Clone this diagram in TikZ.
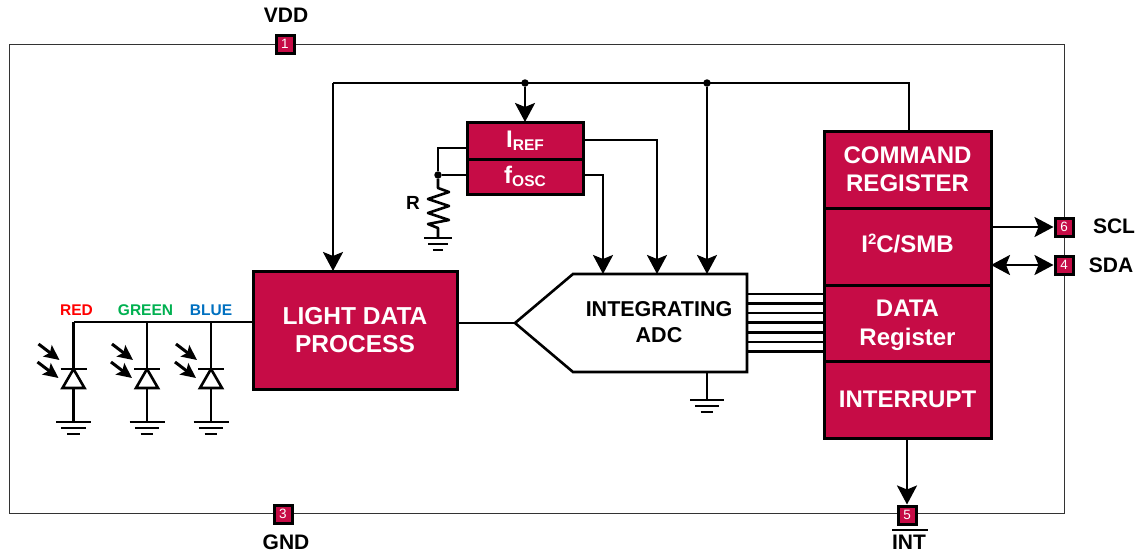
\documentclass[tikz,border=0pt]{standalone}
\usepackage{fontspec}
\setmainfont{Liberation Sans}
\usetikzlibrary{arrows.meta,calc}
\definecolor{crim}{HTML}{C60C46}
\definecolor{lblgreen}{HTML}{00B050}
\definecolor{lblblue}{HTML}{0070C0}
\newcommand{\fs}[1]{\fontsize{#1}{#1}\selectfont}
\newcommand{\subtxt}[1]{\raisebox{-3.5pt}{\fs{15.5}#1}}
\tikzset{
  x=1pt,y=-1pt,
  wire/.style={line width=2.6pt,black},
  arr/.style={wire,-{Stealth[length=19pt,width=20pt,inset=4pt]}},
  darr/.style={wire,{Stealth[length=19pt,width=20pt,inset=4pt]}-{Stealth[length=19pt,width=20pt,inset=4pt]}},
  dot/.style={circle,fill=black,inner sep=0pt,minimum size=7.5pt},
  redbox/.style={draw=black,line width=3pt,outer sep=0pt,fill=crim,text=white,font=\bfseries\fs{24},inner sep=0pt,align=center,anchor=north west},
  pinbox/.style={draw=black,line width=3pt,fill=crim,text=white,font=\fs{13.5},inner sep=0pt,minimum size=18pt},
  pinlbl/.style={font=\bfseries\fs{21},inner sep=0pt},
  plain/.style={font=\bfseries\fs{21.5},inner sep=0pt,align=center},
  colr/.style={font=\bfseries\fs{15.5},inner sep=0pt},
  arrowlet/.style={line width=3pt,-{Stealth[length=15pt,width=14pt,inset=3pt]}},
  gnd/.pic={
    \draw[wire] (-#1,0) -- (#1,0);
    \draw[wire] (-#1*0.7,6) -- (#1*0.7,6);
    \draw[wire] (-#1*0.37,12) -- (#1*0.37,12);
  },
  pics/diode/.style={code={
    \draw[wire,fill=white,line join=miter] (0,0) -- (-11,19) -- (11,19) -- cycle;
    \draw[wire] (-13,0) -- (13,0);
    \draw[arrowlet] (-35,-25) -- (-14,-9);
    \draw[arrowlet] (-36,-7) -- (-15,9);
  }},
}
\begin{document}
\begin{tikzpicture}
\useasboundingbox (0,0) rectangle (1140,554);
% frame
\node[draw=black!80,line width=0.9pt,minimum width=1055pt,minimum height=469pt,inner sep=0pt,outer sep=0pt,anchor=north west] (frame) at (9,44) {};

% blocks
\node[redbox,font=\bfseries\fs{24.5},minimum width=204pt,minimum height=118pt] (light) at (253,271) {LIGHT DATA\\[3.5pt]PROCESS};
\node[redbox,minimum width=116pt,minimum height=37pt] (iref) at (467,122) {I\subtxt{REF}};
\node[redbox,minimum width=116pt,minimum height=35pt] (fosc) at (467,159) {f\subtxt{OSC}};
\node[redbox,minimum width=167pt,minimum height=77pt] (cmd) at (824,131) {COMMAND\\[4pt]REGISTER};
\node[redbox,minimum width=167pt,minimum height=77pt] (i2c) at (824,208) {I\raisebox{8pt}{\fs{15}2}C/SMB\rule[-7pt]{0pt}{7pt}};
\node[redbox,minimum width=167pt,minimum height=76pt] (data) at (824,285) {\rule{0pt}{22pt}DATA\\[5pt]Register};
\node[redbox,minimum width=167pt,minimum height=77pt] (intr) at (824,361) {INTERRUPT};

% ADC
\coordinate (adctip) at (515,323);
\coordinate (adcul) at (573,274);
\coordinate (adcur) at (747,274);
\coordinate (adclr) at (747,372);
\coordinate (adcll) at (573,372);
\draw[line width=2.6pt,line join=miter] (adctip) -- (adcul) -- (adcur) -- (adclr) -- (adcll) -- cycle;
\node[plain] (adctxt) at (659,322) {INTEGRATING\\[5pt]ADC};

% pins
\node[pinbox] (pin1) at (285,44) {1};
\node[pinbox] (pin3) at (283,514) {3};
\node[pinbox] (pin6) at (1064,227) {6};
\node[pinbox] (pin4) at (1064,265) {4};
\node[pinbox] (pin5) at (907,515) {5};
\node[pinlbl] (vdd) at (286,15) {VDD};
\node[pinlbl] (gndl) at (286,542) {GND};
\node[pinlbl] (scl) at (1114,226) {SCL};
\node[pinlbl] (sda) at (1111,265) {SDA};
\node[pinlbl] (int) at (909,542) {INT};
\coordinate (intbarl) at (892,530);
\coordinate (intbarr) at (928,530);
\draw[line width=2.4pt] (intbarl) -- (intbarr);

% supply bus
\coordinate (busl) at (333,83);
\coordinate (busr) at (909,83);
\node[dot] (dota) at (525,83) {};
\node[dot] (dotb) at (707,83) {};
\draw[wire] (cmd.north -| busr) -- (busr) -- (busl);
\draw[arr] (busl) -- (busl |- light.north);
\draw[arr] (dota) -- (dota |- iref.north);
\draw[arr] (dotb) -- (dotb |- adcul);

% iref / fosc outputs
\coordinate (irefout) at (657,140);
\coordinate (foscout) at (603,175);
\draw[arr] (iref.east |- irefout) -- (irefout) -- (irefout |- adcul);
\draw[arr] (fosc.east |- foscout) -- (foscout) -- (foscout |- adcul);

% resistor
\node[dot] (rdot) at (438,175) {};
\coordinate (rl) at (438,148);
\draw[wire] (iref.west |- rl) -- (rl) -- (rdot);
\draw[wire] (fosc.west |- rdot) -- (rdot);
\coordinate (rgnd) at (438,238);
\draw[wire,line join=round] (rdot) -- (438,188) -- (449,192) -- (428,199) -- (449,206) -- (428,213) -- (449,220) -- (428,224) -- (438,228) -- (rgnd);
\pic at (rgnd) {gnd=14};
\node[pinlbl,font=\bfseries\fs{19}] (rlbl) at (413,203) {R};

% light to adc
\draw[wire] (light.east |- adctip) -- (adctip);

% adc ground
\coordinate (agnd) at (707,400);
\draw[wire] (agnd |- adclr) -- (agnd);
\pic at (agnd) {gnd=17};

% data lines
\foreach \n/\y in {a/294,b/303.7,c/313,d/322.7,e/332.3,f/342,g/351.7}{
  \coordinate (dl\n) at (747,\y);
  \draw[wire] (dl\n) -- (dl\n -| data.west);
}

% serial + int
\draw[arr] (i2c.east |- pin6) -- (pin6.west);
\draw[darr] (i2c.east |- pin4) -- (pin4.west);
\coordinate (intdn) at (907,438);
\draw[arr] (intdn) -- (pin5.north);

% photodiodes
\coordinate (busd) at (73.5,322);
\draw[wire] (light.west |- busd) -- (busd);
\foreach \n/\x in {r/73.5,g/147,b/211}{
  \coordinate (top\n) at (\x,322);
  \coordinate (d\n) at (\x,369);
  \coordinate (g\n) at (\x,422);
  \draw[wire] (top\n) -- (d\n);
  \draw[wire] (d\n) -- (g\n);
  \pic at (d\n) {diode};
  \pic at (g\n) {gnd=17.5};
}
\node[colr,text=red] (redl) at (76.5,310) {RED};
\node[colr,text=lblgreen] (greenl) at (145.5,310) {GREEN};
\node[colr,text=lblblue] (bluel) at (211,310) {BLUE};
\end{tikzpicture}
\end{document}
